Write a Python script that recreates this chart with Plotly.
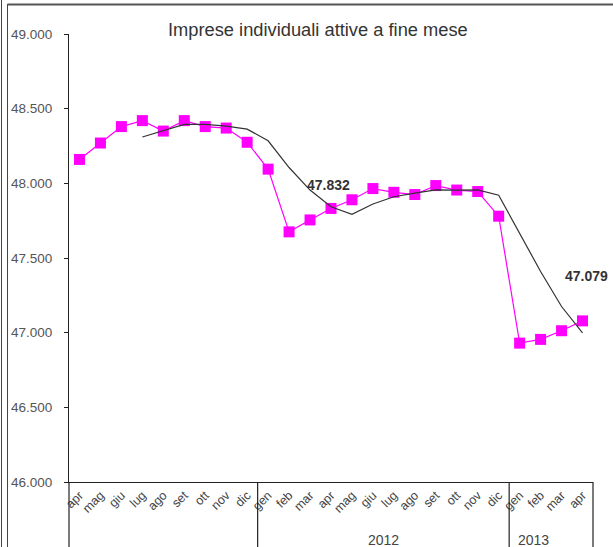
import plotly.graph_objects as go

# ---- data ----
months = ["apr", "mag", "giu", "lug", "ago", "set", "ott", "nov", "dic",
          "gen", "feb", "mar", "apr", "mag", "giu", "lug", "ago", "set", "ott", "nov", "dic",
          "gen", "feb", "mar", "apr"]
years = [2011] * 9 + [2012] * 12 + [2013] * 4
imprese = [48160, 48270, 48380, 48420, 48350, 48420, 48380, 48370, 48275,
           48095, 47675, 47755, 47832, 47890, 47965, 47940, 47925, 47985, 47955, 47945, 47780,
           46930, 46955, 47013, 47079]
media_mobile = [None, None, None, 48310, 48355, 48395, 48395, 48383, 48363,
                48285, 48106, 47955, 47843, 47792, 47862, 47910, 47934, 47956, 47955, 47956, 47920,
                47660, 47410, 47175, 46998]
y_ticks = [46000, 46500, 47000, 47500, 48000, 48500, 49000]
y_tick_labels = ["46.000", "46.500", "47.000", "47.500", "48.000", "48.500", "49.000"]
shown_years = ["2012", "2013"]
highlight_idx = [12, 24]
title_text = "Imprese individuali attive a fine mese"

W, H = 613, 547
ML, MR, MT, MB = 69, 20, 34, 65
PW, PH = W - ML - MR, H - MT - MB
n = len(months)
xs = list(range(n))
FONT = "Liberation Sans, Arial, sans-serif"


def px_x(px):
    return (px - ML) / PW


def px_y(py):
    return (H - MB - py) / PH


fig = go.Figure()
fig.add_trace(go.Scatter(
    x=xs, y=imprese, mode="lines+markers",
    line=dict(color="#FF00FF", width=1.2),
    marker=dict(symbol="square", size=11, color="#FF00FF"),
    showlegend=False, hoverinfo="skip"))
fig.add_trace(go.Scatter(
    x=xs, y=media_mobile, mode="lines",
    line=dict(color="#333333", width=1.2),
    showlegend=False, hoverinfo="skip", connectgaps=False))

shapes = []
annotations = []

# group separators and year labels from the years list
groups = []
start = 0
for i in range(1, n + 1):
    if i == n or years[i] != years[start]:
        groups.append((years[start], start, i - 1))
        start = i
line_style = dict(color="#222222", width=1.2)
bottom = -(MB + 5) / PH
for yr, s, e in groups:
    xr = (e + 1) / n
    shapes.append(dict(type="line", xref="paper", yref="paper", x0=xr, x1=xr,
                       y0=0, y1=bottom, line=line_style))
    if str(yr) in shown_years:
        annotations.append(dict(xref="paper", yref="paper", x=(s + e + 1) / 2 / n,
                                y=px_y(540), yanchor="middle", showarrow=False,
                                text=str(yr), font=dict(size=14, color="#444444", family=FONT)))
shapes.append(dict(type="line", xref="paper", yref="paper", x0=0, x1=0,
                   y0=0, y1=bottom, line=line_style))

# outer frame
frame = dict(color="#444444", width=1)
shapes.append(dict(type="line", xref="paper", yref="paper", x0=px_x(1.5), x1=px_x(1.5),
                   y0=px_y(-5), y1=px_y(H + 5), line=frame))
shapes.append(dict(type="line", xref="paper", yref="paper", x0=px_x(7.5), x1=px_x(7.5),
                   y0=px_y(4), y1=px_y(H + 5), line=frame))
shapes.append(dict(type="line", xref="paper", yref="paper", x0=px_x(7.5), x1=px_x(W + 5),
                   y0=px_y(4.5), y1=px_y(4.5), line=dict(color="#555555", width=2)))

# value labels
for idx, ysh, xsh in zip(highlight_idx, [23, 45], [-3, 4]):
    v = imprese[idx]
    txt = f"{v:,}".replace(",", ".")
    annotations.append(dict(x=xs[idx], y=v, xref="x", yref="y", text="<b>" + txt + "</b>",
                            showarrow=False, yshift=ysh, xshift=xsh,
                            font=dict(size=14, color="#333333", family=FONT)))

# title
annotations.append(dict(xref="paper", yref="paper", x=px_x(318), y=px_y(29),
                        yanchor="middle", xanchor="center", showarrow=False, text=title_text,
                        font=dict(size=18.3, color="#333333", family=FONT)))

fig.update_layout(
    width=W, height=H,
    margin=dict(l=ML, r=MR, t=MT, b=MB, pad=0, autoexpand=False),
    paper_bgcolor="white", plot_bgcolor="white",
    font=dict(family=FONT, color="#444444"),
    shapes=shapes, annotations=annotations,
    xaxis=dict(range=[-0.5, n - 0.5], tickvals=xs, ticktext=months, tickangle=-45,
               showgrid=False, zeroline=False, showline=True, linecolor="#222222",
               linewidth=1.2, ticks="", tickfont=dict(size=12.5, color="#444444"),
               automargin=False),
    yaxis=dict(range=[46000, 49000], tickvals=y_ticks, ticktext=y_tick_labels,
               showgrid=False, zeroline=False, showline=True, linecolor="#222222",
               linewidth=1.2, ticks="outside", ticklen=4, tickcolor="#222222",
               ticklabelstandoff=9,
               tickfont=dict(size=13.5, color="#555555"), automargin=False),
)

fig.write_html("out.html", config={"displayModeBar": False},
               post_script="document.body.style.margin='0px';document.body.style.overflow='hidden';")
